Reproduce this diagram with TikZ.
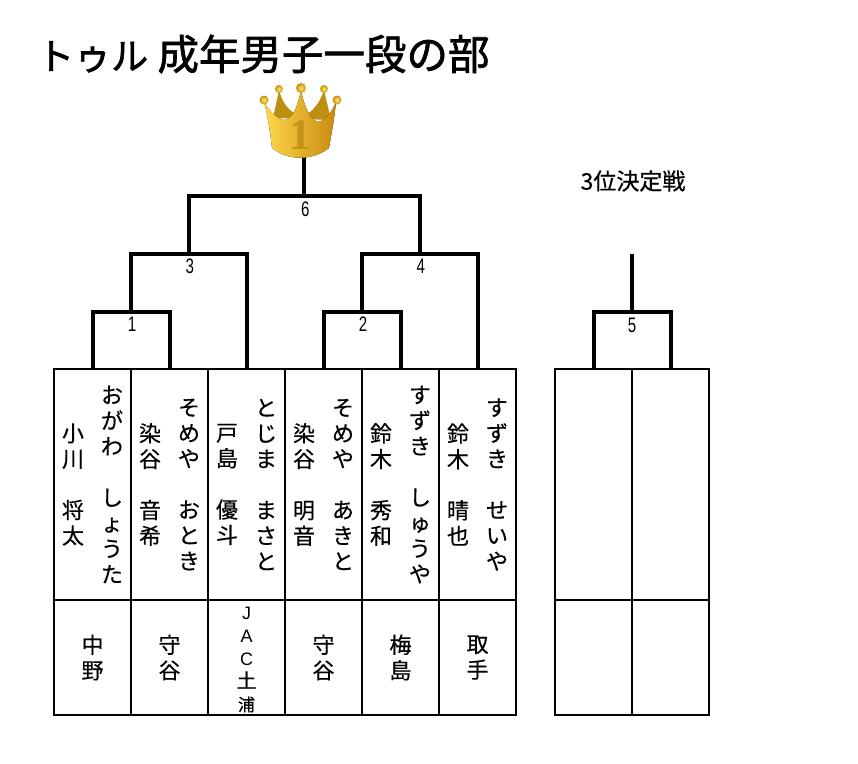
\documentclass[tikz,border=0pt]{standalone}
\usepackage{fontspec}
\setmainfont[FakeBold=0.4]{Noto Sans CJK JP}
\newfontfamily\titlefont[FakeBold=1.6]{Noto Sans CJK JP}
\newfontfamily\numfont[FakeStretch=0.72]{Liberation Sans}
\newfontfamily\latinfont{Liberation Sans}
\newfontfamily\crownfont{Liberation Serif}
\usetikzlibrary{calc,positioning}
\definecolor{crownlight}{HTML}{FFD84A}
\definecolor{crownmid}{HTML}{F0BE2C}
\definecolor{crowndark}{HTML}{C98A10}
\definecolor{crownback}{HTML}{BE9010}
\definecolor{crownnum}{HTML}{C8921A}
\definecolor{balllight}{HTML}{FFE878}
\definecolor{balldark}{HTML}{C89000}
\begin{document}
\begin{tikzpicture}[-,x=1pt,y=-1pt,node distance=0pt]
	\tikzstyle{point}=[coordinate]
	\tikzstyle{namebox}=[draw, rectangle, line width=2pt, inner sep=0pt, outer sep=0pt, minimum width=77pt, minimum height=231pt]
	\tikzstyle{clubbox}=[draw, rectangle, line width=2pt, inner sep=0pt, outer sep=0pt, minimum width=77pt, minimum height=115pt]
	\tikzstyle{tate}=[align=center, inner sep=0pt, font=\fontsize{22}{25.6}\selectfont]
	\tikzstyle{num}=[inner sep=0pt, font=\numfont\fontsize{21}{21}\selectfont]
	\tikzstyle{bracket}=[line width=4pt]
	\tikzstyle{ball}=[inner color=balllight, outer color=balldark, draw=none]
	\useasboundingbox (0,0) rectangle (858,763);
	% Title
	\node (title) [anchor=west, inner sep=0pt, font=\titlefont\fontsize{41.5}{42}\selectfont] at (37,54) {{\fontsize{37}{42}\selectfont トゥル} 成年男子一段の部};
	\node (third) [inner sep=0pt, font=\fontsize{23}{23}\selectfont] at (633,181) {3位決定戦};
	% Boxes
	\node[namebox] (nameA) at (92.5,484.5) {};
	\node[namebox] (nameB) [right = of nameA] {};
	\node[namebox] (nameC) [right = of nameB] {};
	\node[namebox] (nameD) [right = of nameC] {};
	\node[namebox] (nameE) [right = of nameD] {};
	\node[namebox] (nameF) [right = of nameE] {};
	\node[namebox] (nameG) [right = 39pt of nameF] {};
	\node[namebox] (nameH) [right = of nameG] {};
	\node[clubbox] (clubA) [below = of nameA] {};
	\node[clubbox] (clubB) [below = of nameB] {};
	\node[clubbox] (clubC) [below = of nameC] {};
	\node[clubbox] (clubD) [below = of nameD] {};
	\node[clubbox] (clubE) [below = of nameE] {};
	\node[clubbox] (clubF) [below = of nameF] {};
	\node[clubbox] (clubG) [below = of nameG] {};
	\node[clubbox] (clubH) [below = of nameH] {};
	% Names
	\node[tate] (kanaA) at ([xshift=19.5pt]nameA.center) {お\\が\\わ\\　\\し\\ょ\\う\\た};
	\node[tate] (kanjiA) at ([xshift=-19.5pt]nameA.center) {小\\川\\　\\将\\太};
	\node[tate] (kanaB) at ([xshift=19.5pt]nameB.center) {そ\\め\\や\\　\\お\\と\\き};
	\node[tate] (kanjiB) at ([xshift=-19.5pt]nameB.center) {染\\谷\\　\\音\\希};
	\node[tate] (kanaC) at ([xshift=19.5pt]nameC.center) {と\\じ\\ま\\　\\ま\\さ\\と};
	\node[tate] (kanjiC) at ([xshift=-19.5pt]nameC.center) {戸\\島\\　\\優\\斗};
	\node[tate] (kanaD) at ([xshift=19.5pt]nameD.center) {そ\\め\\や\\　\\あ\\き\\と};
	\node[tate] (kanjiD) at ([xshift=-19.5pt]nameD.center) {染\\谷\\　\\明\\音};
	\node[tate] (kanaE) at ([xshift=19.5pt]nameE.center) {す\\ず\\き\\　\\し\\ゅ\\う\\や};
	\node[tate] (kanjiE) at ([xshift=-19.5pt]nameE.center) {鈴\\木\\　\\秀\\和};
	\node[tate] (kanaF) at ([xshift=19.5pt]nameF.center) {す\\ず\\き\\　\\せ\\い\\や};
	\node[tate] (kanjiF) at ([xshift=-19.5pt]nameF.center) {鈴\\木\\　\\晴\\也};
	% Clubs
	\node[tate] (homeA) at (clubA.center) {中\\野};
	\node[tate] (homeB) at (clubB.center) {守\\谷};
	\node[tate, font=\latinfont\fontsize{18}{23}\selectfont] (homeC) at ([yshift=-2pt]clubC.center) {J\\A\\C\\{\rmfamily\fontsize{20}{23}\selectfont 土}\\{\rmfamily\fontsize{17}{23}\selectfont 浦}};
	\node[tate] (homeD) at (clubD.center) {守\\谷};
	\node[tate] (homeE) at (clubE.center) {梅\\島};
	\node[tate] (homeF) at (clubF.center) {取\\手};
	% Points
	\node[point] (t1) [above = 57pt of nameA.north east] {};
	\node[point] (t2) [above = 57pt of nameD.north east] {};
	\node[point] (t5) [above = 57pt of nameG.north east] {};
	\node[point] (j1) [above = 58pt of t1] {};
	\node[point] (j2) [above = 58pt of t2] {};
	\node[point] (j5) [above = 58pt of t5] {};
	\node[point] (j3) at ($(j1)!.5!(nameC.north |- j1)$) {};
	\node[point] (j4) at ($(j2)!.5!(nameF.north |- j2)$) {};
	\node[point] (k3) [above = 58pt of j3] {};
	\node[point] (k6) at ($(k3)!.5!(j4 |- k3)$) {};
	\node[point] (crownfoot) at (k6 |- 0,150) {};
	% Lines
	\draw [bracket] (nameA.north) |- (t1) -| (nameB.north);
	\draw [bracket] (nameD.north) |- (t2) -| (nameE.north);
	\draw [bracket] (nameG.north) |- (t5) -| (nameH.north);
	\draw [bracket] (t1) -- (j1) -| (nameC.north);
	\draw [bracket] (t2) -- (j2) -| (nameF.north);
	\draw [bracket] (t5) -- (j5);
	\draw [bracket] (j3) -- (k3) -| (j4);
	\draw [bracket] (k6) -- (crownfoot);
	% Numbers
	\node[num] (n1) [below = 5pt of t1, xshift=1pt] {1};
	\node[num] (n2) [below = 5pt of t2, xshift=1pt] {2};
	\node[num] (n3) [below = 5pt of j3, xshift=1pt] {3};
	\node[num] (n4) [below = 5pt of j4, xshift=1pt] {4};
	\node[num] (n5) [below = 6pt of t5] {5};
	\node[num] (n6) [below = 6pt of k6, xshift=1pt] {6};
	% Crown
	\fill [crownback] (273,118) -- (279,90) .. controls (282,102) and (288,110) .. (296,114) -- (307,114) .. controls (314,110) and (320,102) .. (324,90) -- (331,120) -- cycle;
	\fill [left color=crownlight, middle color=crownmid, right color=crowndark]
		(264,102) .. controls (270,112) and (278,120) .. (285,120) .. controls (293,118) and (298,106) .. (301,90)
		.. controls (304,106) and (310,120) .. (318,122) .. controls (326,120) and (332,112) .. (336,102)
		.. controls (334,122) and (331,136) .. (329,148) .. controls (312,161) and (288,161) .. (272,148)
		.. controls (270,132) and (268,116) .. (264,102) -- cycle;
	\shade[ball] (264,100) circle (4.5pt);
	\shade[ball] (279,89) circle (4pt);
	\shade[ball] (301,88) circle (5pt);
	\shade[ball] (324,89) circle (4pt);
	\shade[ball] (337,100) circle (4.5pt);
	\node (crownnum) [inner sep=0pt, text=crownnum, font=\crownfont\bfseries\fontsize{44}{44}\selectfont] at (300,135) {1};
\end{tikzpicture}
\end{document}
